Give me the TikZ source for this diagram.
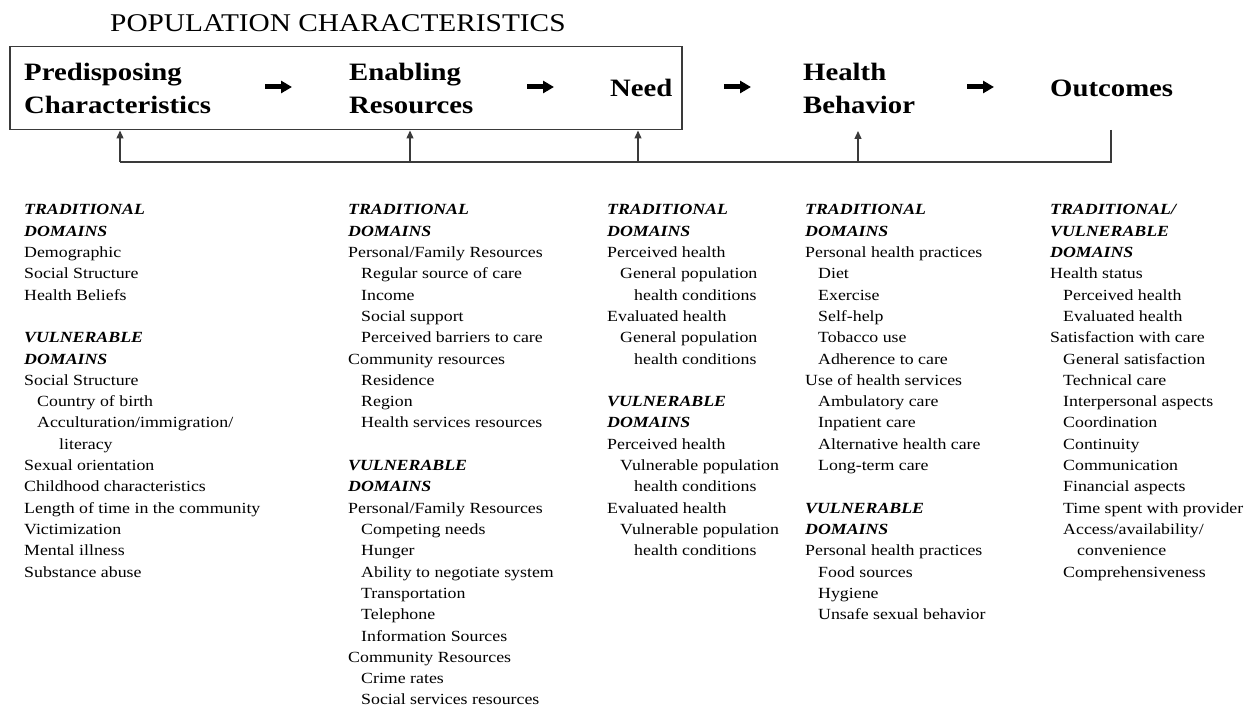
\documentclass[tikz,border=0pt]{standalone}
\usepackage{fontspec}
\setmainfont{Liberation Serif}[FakeStretch=1.15]
\usetikzlibrary{arrows.meta}
\newcommand{\dhd}{\bfseries\itshape}
\newcommand{\ia}{\hspace*{13pt}}
\newcommand{\ib}{\hspace*{27pt}}
\newcommand{\ic}{\hspace*{35pt}}
\definecolor{linegray}{HTML}{3A3A3A}
\begin{document}
\begin{tikzpicture}[x=1pt,y=-1pt,
  coltext/.style={anchor=base west, inner sep=0pt, font=\fontsize{15.5}{21.3}\selectfont},
  hdr/.style={anchor=base west, inner sep=0pt, font=\fontsize{25}{33}\selectfont\bfseries},
  bigarrow/.style={line width=5pt, -{Triangle[length=11pt,width=12pt]}},
  fbline/.style={draw=linegray, line width=1.3pt},
  fbarrow/.style={fbline, -{Triangle[length=8pt,width=7pt]}}
]
\useasboundingbox (0,0) rectangle (1246,708);

% title and box
\node[anchor=base west, inner sep=0pt, font=\fontsize{25.5}{30}\selectfont] (title) at (110,32) {POPULATION CHARACTERISTICS};
\node[draw=linegray, line width=1.5pt, anchor=north west, minimum width=672pt, minimum height=83pt, inner sep=0pt] (popbox) at (9,46) {};

% headers
\node[hdr] (pre) at (24,81) {\begin{tabular}[t]{@{}l@{}}Predisposing\\Characteristics\end{tabular}};
\node[hdr] (ena) at (349,81) {\begin{tabular}[t]{@{}l@{}}Enabling\\Resources\end{tabular}};
\node[hdr] (need) at (610,97) {Need};
\node[hdr] (hb) at (803,81) {\begin{tabular}[t]{@{}l@{}}Health\\Behavior\end{tabular}};
\node[hdr] (oc) at (1050,97) {Outcomes};

% flow arrows
\coordinate (a1s) at (265,87); \coordinate (a1e) at (292,87);
\coordinate (a2s) at (527,87); \coordinate (a2e) at (554,87);
\coordinate (a3s) at (724,87); \coordinate (a3e) at (751,87);
\coordinate (a4s) at (967,87); \coordinate (a4e) at (994,87);
\draw[bigarrow] (a1s) -- (a1e);
\draw[bigarrow] (a2s) -- (a2e);
\draw[bigarrow] (a3s) -- (a3e);
\draw[bigarrow] (a4s) -- (a4e);

% feedback
\coordinate (ocfoot) at (1111,130);
\coordinate (fbR) at (1111,162);
\coordinate (fbL) at (120,162);
\coordinate (fb2) at (410,162);
\coordinate (fb3) at (638,162);
\coordinate (fb4) at (858,162);
\coordinate (hbfoot) at (858,131);
\draw[fbline] (ocfoot) -- (fbR) -- (fbL);
\draw[fbarrow] (fbL) -- (fbL |- popbox.south);
\draw[fbarrow] (fb2) -- (fb2 |- popbox.south);
\draw[fbarrow] (fb3) -- (fb3 |- popbox.south);
\draw[fbarrow] (fb4) -- (hbfoot);

% columns
\node[coltext] (col1) at (24,215) {\begin{tabular}[t]{@{}l@{}}
\dhd TRADITIONAL\\
\dhd DOMAINS\\
Demographic\\
Social Structure\\
Health Beliefs\\
\\
\dhd VULNERABLE\\
\dhd DOMAINS\\
Social Structure\\
\ia Country of birth\\
\ia Acculturation/immigration/\\
\ic literacy\\
Sexual orientation\\
Childhood characteristics\\
Length of time in the community\\
Victimization\\
Mental illness\\
Substance abuse
\end{tabular}};

\node[coltext] (col2) at (348,215) {\begin{tabular}[t]{@{}l@{}}
\dhd TRADITIONAL\\
\dhd DOMAINS\\
Personal/Family Resources\\
\ia Regular source of care\\
\ia Income\\
\ia Social support\\
\ia Perceived barriers to care\\
Community resources\\
\ia Residence\\
\ia Region\\
\ia Health services resources\\
\\
\dhd VULNERABLE\\
\dhd DOMAINS\\
Personal/Family Resources\\
\ia Competing needs\\
\ia Hunger\\
\ia Ability to negotiate system\\
\ia Transportation\\
\ia Telephone\\
\ia Information Sources\\
Community Resources\\
\ia Crime rates\\
\ia Social services resources
\end{tabular}};

\node[coltext] (col3) at (607,215) {\begin{tabular}[t]{@{}l@{}}
\dhd TRADITIONAL\\
\dhd DOMAINS\\
Perceived health\\
\ia General population\\
\ib health conditions\\
Evaluated health\\
\ia General population\\
\ib health conditions\\
\\
\dhd VULNERABLE\\
\dhd DOMAINS\\
Perceived health\\
\ia Vulnerable population\\
\ib health conditions\\
Evaluated health\\
\ia Vulnerable population\\
\ib health conditions
\end{tabular}};

\node[coltext] (col4) at (805,215) {\begin{tabular}[t]{@{}l@{}}
\dhd TRADITIONAL\\
\dhd DOMAINS\\
Personal health practices\\
\ia Diet\\
\ia Exercise\\
\ia Self-help\\
\ia Tobacco use\\
\ia Adherence to care\\
Use of health services\\
\ia Ambulatory care\\
\ia Inpatient care\\
\ia Alternative health care\\
\ia Long-term care\\
\\
\dhd VULNERABLE\\
\dhd DOMAINS\\
Personal health practices\\
\ia Food sources\\
\ia Hygiene\\
\ia Unsafe sexual behavior
\end{tabular}};

\node[coltext] (col5) at (1050,215) {\begin{tabular}[t]{@{}l@{}}
\dhd TRADITIONAL/\\
\dhd VULNERABLE\\
\dhd DOMAINS\\
Health status\\
\ia Perceived health\\
\ia Evaluated health\\
Satisfaction with care\\
\ia General satisfaction\\
\ia Technical care\\
\ia Interpersonal aspects\\
\ia Coordination\\
\ia Continuity\\
\ia Communication\\
\ia Financial aspects\\
\ia Time spent with provider\\
\ia Access/availability/\\
\ib convenience\\
\ia Comprehensiveness
\end{tabular}};
\end{tikzpicture}
\end{document}
